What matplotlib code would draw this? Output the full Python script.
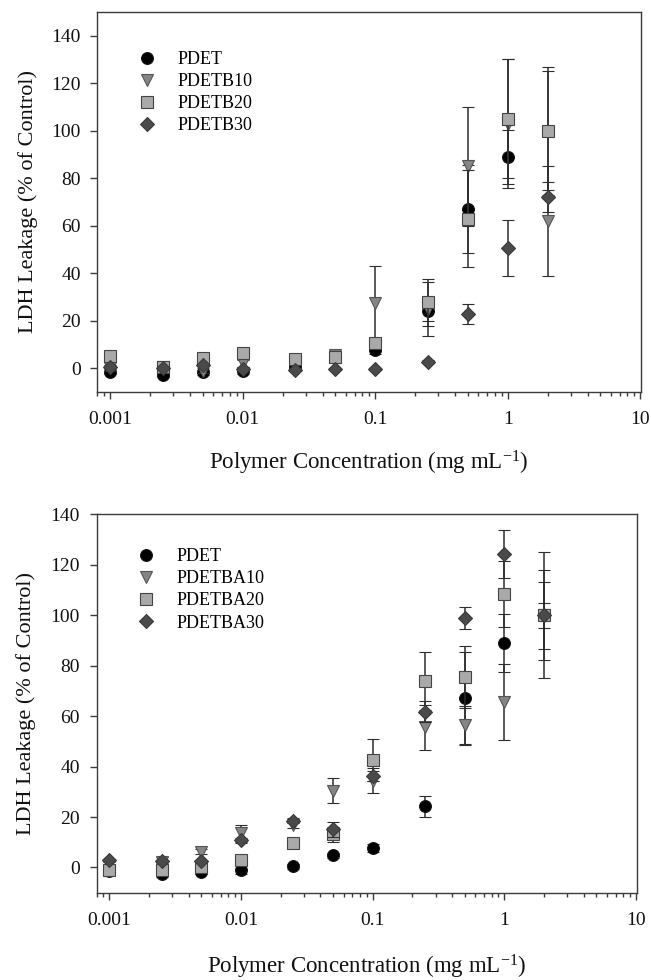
import matplotlib
matplotlib.use("Agg")
import matplotlib.pyplot as plt
from matplotlib.ticker import FixedLocator, FixedFormatter, LogLocator, NullFormatter

plt.rcParams['font.family'] = ['Liberation Serif', 'DejaVu Serif']
plt.rcParams['mathtext.fontset'] = 'custom'
plt.rcParams['mathtext.rm'] = 'Liberation Serif'
plt.rcParams['mathtext.it'] = 'Liberation Serif:italic'

# ---------------- data ----------------
conc = [0.001, 0.0025, 0.005, 0.01, 0.025, 0.05, 0.1, 0.25, 0.5, 1, 2]

# top panel
pdet = [-1.5, -2.7, -1.7, -1.0, 0.5, 4.9, 7.7, 24.2, 67.0, 89.0, 100.0]
pdet_err = [1.0, 1.0, 1.0, 1.5, 1.0, 1.0, 1.5, 4.3, 18.5, 11.5, 25.0]
pdetb10 = [0.0, 0.5, -1.0, 2.0, 1.0, 5.5, 27.4, 25.0, 85.0, 103.0, 62.0]
pdetb10_err = [1.0, 1.0, 1.0, 1.5, 1.0, 1.5, 15.5, 11.5, 25.0, 27.0, 23.0]
pdetb20 = [5.0, 0.4, 4.5, 6.5, 3.9, 4.9, 10.5, 27.7, 63.0, 105.0, 100.0]
pdetb20_err = [1.0, 1.0, 1.0, 1.5, 1.0, 2.5, 2.0, 9.9, 20.5, 25.0, 27.0]
pdetb30 = [0.7, 0.0, 1.4, -0.5, -0.7, -0.3, -0.3, 2.8, 22.9, 50.5, 72.0]
pdetb30_err = [0.5, 0.5, 0.5, 0.5, 0.5, 0.5, 0.5, 0.8, 4.2, 11.8, 6.3]

# bottom panel
pdetba10 = [1.0, 2.0, 6.3, 13.5, 17.0, 30.4, 34.4, 55.5, 56.5, 65.5, 100.0]
pdetba10_err = [1.0, 2.0, 1.0, 3.5, 1.5, 5.0, 5.0, 9.0, 7.5, 15.0, 17.8]
pdetba20 = [-1.0, -1.2, 0.2, 3.0, 9.7, 13.2, 42.6, 74.1, 75.4, 108.5, 100.0]
pdetba20_err = [1.5, 1.5, 1.5, 1.5, 1.0, 3.0, 8.3, 11.5, 12.3, 13.0, 13.3]
pdetba30 = [3.0, 2.4, 2.6, 10.8, 18.5, 15.2, 36.4, 61.8, 98.9, 124.3, 100.0]
pdetba30_err = [0.5, 0.5, 0.5, 1.0, 1.0, 3.0, 2.0, 4.0, 4.3, 9.6, 5.0]

top_labels = ['PDET', 'PDETB10', 'PDETB20', 'PDETB30']
bottom_labels = ['PDET', 'PDETBA10', 'PDETBA20', 'PDETBA30']
x_ticks = [0.001, 0.01, 0.1, 1, 10]
x_ticklabels = ['0.001', '0.01', '0.1', '1', '10']
y_ticks = [0, 20, 40, 60, 80, 100, 120, 140]

# ---------------- styles ----------------
styles = [
    dict(marker='o', ms=8.5, mfc='#000000', mec='#111111'),
    dict(marker='v', ms=9.0, mfc='#858585', mec='#555555'),
    dict(marker='s', ms=8.0, mfc='#a9a9a9', mec='#444444'),
    dict(marker='D', ms=7.5, mfc='#4a4a4a', mec='#3a3a3a'),
]
spine_col = '#3c3c3c'

fig = plt.figure(figsize=(6.51, 9.80), dpi=100)
ax1 = fig.add_axes([0.1495, 0.600, 0.835, 0.3878])
ax2 = fig.add_axes([0.1485, 0.0891, 0.8295, 0.3861])


def draw(ax, series, errs, labels, ylim, xlab_y, ylab_x, leg_y):
    handles = []
    for i, (vals, err) in enumerate(zip(series, errs)):
        st = styles[i]
        c = ax.errorbar(conc, vals, yerr=err, fmt=st['marker'], ms=st['ms'],
                        mfc=st['mfc'], mec=st['mec'], mew=0.8,
                        ecolor='#2e2e2e', elinewidth=1.1, capsize=4.5,
                        capthick=1.1, zorder=3 + i)
        handles.append(c[0])
    ax.set_xscale('log')
    ax.set_xlim(0.0008, 10.1)
    ax.set_ylim(*ylim)
    ax.xaxis.set_major_locator(FixedLocator(x_ticks))
    ax.xaxis.set_major_formatter(FixedFormatter(x_ticklabels))
    ax.xaxis.set_minor_locator(LogLocator(base=10, subs=range(2, 10), numticks=20))
    ax.xaxis.set_minor_formatter(NullFormatter())
    ax.yaxis.set_major_locator(FixedLocator(y_ticks))
    ax.tick_params(axis='both', which='both', direction='out', colors=spine_col,
                   labelcolor='#111111', top=False, right=False)
    ax.tick_params(axis='both', which='major', length=5, width=1.0,
                   labelsize=14)
    ax.tick_params(axis='x', which='minor', length=3, width=1.0)
    ax.tick_params(axis='x', which='major', pad=9)
    ax.tick_params(axis='y', which='major', pad=7)
    for sp in ax.spines.values():
        sp.set_color(spine_col)
        sp.set_linewidth(1.0)
    ax.set_xlabel(r'Polymer Concentration (mg mL$^{-1}$)', fontsize=16.5,
                  color='#111111')
    ax.xaxis.set_label_coords(0.5, xlab_y)
    ax.set_ylabel('LDH Leakage (% of Control)', fontsize=16,
                  color='#111111')
    ax.yaxis.set_label_coords(ylab_x, 0.5)
    ax.yaxis.label.set_verticalalignment('center')
    ax.legend(handles, labels, loc='upper left', bbox_to_anchor=(0.072, leg_y),
              frameon=False, fontsize=13, numpoints=1, handlelength=1.2,
              handletextpad=1.05, labelspacing=0.28, borderpad=0,
              borderaxespad=0)


draw(ax1, [pdet, pdetb10, pdetb20, pdetb30],
     [pdet_err, pdetb10_err, pdetb20_err, pdetb30_err], top_labels,
     (-10, 150), -0.15, -0.128, 0.897)
draw(ax2, [pdet, pdetba10, pdetba20, pdetba30],
     [pdet_err, pdetba10_err, pdetba20_err, pdetba30_err], bottom_labels,
     (-10, 140), -0.16, -0.13, 0.91)

fig.savefig('out.png', dpi=100)
